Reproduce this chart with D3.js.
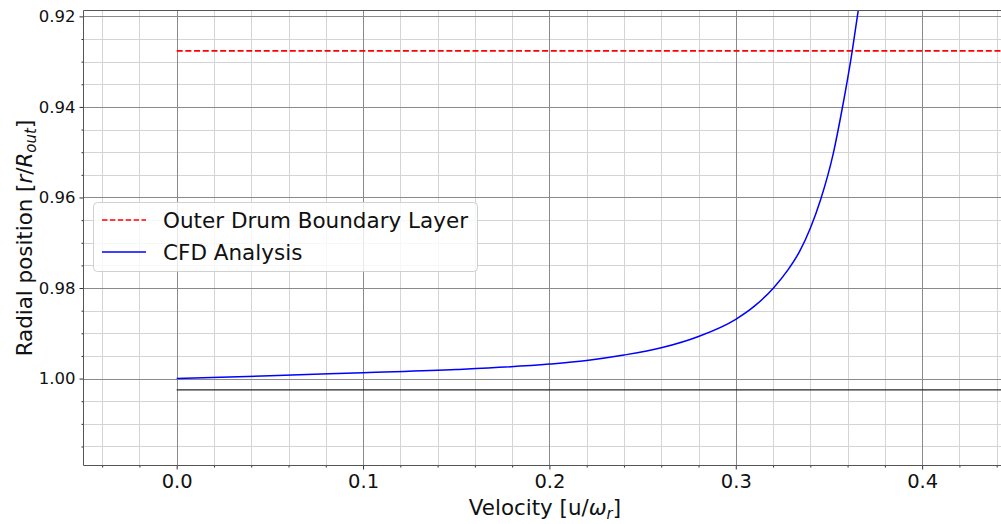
<!DOCTYPE html>
<html>
<head>
<meta charset="utf-8">
<script src="https://cdn.jsdelivr.net/npm/d3@7"></script>
<style>
  html, body { margin: 0; padding: 0; background: #fff; }
  svg { display: block; font-family: "DejaVu Sans", sans-serif; }
</style>
</head>
<body>
<svg id="chart" width="1001" height="524"></svg>
<script>
// CFD velocity profile near the outer drum wall
const velocity = [0, 0.05, 0.10, 0.15, 0.20, 0.22, 0.24, 0.26, 0.28, 0.30, 0.31, 0.32, 0.328, 0.3344, 0.340, 0.3455, 0.3523, 0.3571, 0.3625, 0.3657];
const radial   = [1.0000, 0.9994, 0.9987, 0.9980, 0.9968, 0.9960, 0.9948, 0.9932, 0.9907, 0.9869, 0.9840, 0.9801, 0.9760, 0.9718, 0.9668, 0.9605, 0.9503, 0.9404, 0.9276, 0.9187];

// Reference lines
const boundaryLayerR = 0.9276;   // outer drum boundary layer
const wallR = 1.0025;            // drum wall
const refStartV = 0.0;

// Axis limits and ticks
const xDomain = [-0.05, 0.445];
const yDomain = [0.9187, 1.0192];
const xTicks = [0.0, 0.1, 0.2, 0.3, 0.4];
const xMinorTicks = [-0.04, -0.02, 0.02, 0.04, 0.06, 0.08, 0.12, 0.14, 0.16, 0.18, 0.22, 0.24, 0.26, 0.28, 0.32, 0.34, 0.36, 0.38, 0.42, 0.44];
const yTicks = [0.92, 0.94, 0.96, 0.98, 1.00];
const yMinorTicks = [0.925, 0.93, 0.935, 0.945, 0.95, 0.955, 0.965, 0.97, 0.975, 0.985, 0.99, 0.995, 1.005, 1.01, 1.015];

const legendItems = ["Outer Drum Boundary Layer", "CFD Analysis"];

const svg = d3.select("#chart");
const pLeft = 83.5, pRight = 1006, pTop = 10.5, pBottom = 465.5;

const x = d3.scaleLinear().domain(xDomain).range([pLeft, pRight]);
const y = d3.scaleLinear().domain(yDomain).range([pTop, pBottom]);

svg.append("defs").append("clipPath").attr("id", "plotClip")
  .append("rect").attr("x", pLeft).attr("y", pTop)
  .attr("width", pRight - pLeft).attr("height", pBottom - pTop);

// Grid
const grid = svg.append("g");
const crisp = v => Math.round(v) + 0.5;
grid.selectAll(".xmin").data(xMinorTicks).join("line")
  .attr("x1", d => crisp(x(d))).attr("x2", d => crisp(x(d)))
  .attr("y1", pTop).attr("y2", pBottom)
  .attr("stroke", "#d4d4d4").attr("stroke-width", 1);
grid.selectAll(".ymin").data(yMinorTicks).join("line")
  .attr("y1", d => crisp(y(d))).attr("y2", d => crisp(y(d)))
  .attr("x1", pLeft).attr("x2", pRight)
  .attr("stroke", "#d4d4d4").attr("stroke-width", 1);
grid.selectAll(".xmaj").data(xTicks).join("line")
  .attr("x1", d => crisp(x(d))).attr("x2", d => crisp(x(d)))
  .attr("y1", pTop).attr("y2", pBottom)
  .attr("stroke", "#8a8a8a").attr("stroke-width", 1);
grid.selectAll(".ymaj").data(yTicks).join("line")
  .attr("y1", d => crisp(y(d))).attr("y2", d => crisp(y(d)))
  .attr("x1", pLeft).attr("x2", pRight)
  .attr("stroke", "#8a8a8a").attr("stroke-width", 1);

// Data
const plot = svg.append("g").attr("clip-path", "url(#plotClip)");

plot.append("line")
  .attr("x1", x(refStartV)).attr("x2", pRight)
  .attr("y1", y(wallR)).attr("y2", y(wallR))
  .attr("stroke", "#262626").attr("stroke-width", 1.2);

plot.append("line")
  .attr("x1", x(refStartV)).attr("x2", pRight)
  .attr("y1", y(boundaryLayerR)).attr("y2", y(boundaryLayerR))
  .attr("stroke", "#ff0000").attr("stroke-width", 1.8)
  .attr("stroke-dasharray", "6,2.7");

const pts = velocity.map((v, i) => [v, radial[i]]);
plot.append("path")
  .datum(pts)
  .attr("fill", "none")
  .attr("stroke", "#0000ff")
  .attr("stroke-width", 1.5)
  .attr("d", d3.line().x(d => x(d[0])).y(d => y(d[1])).curve(d3.curveMonotoneX));

// Axes
const xAxis = svg.append("g").attr("transform", `translate(0,${pBottom})`)
  .call(d3.axisBottom(x).tickValues(xTicks).tickFormat(d3.format(".1f")).tickSize(4).tickPadding(5));
const xAxisMinor = svg.append("g").attr("transform", `translate(0,${pBottom})`)
  .call(d3.axisBottom(x).tickValues(xMinorTicks).tickFormat("").tickSize(2));
const yAxis = svg.append("g").attr("transform", `translate(${pLeft},0)`)
  .call(d3.axisLeft(y).tickValues(yTicks).tickFormat(d3.format(".2f")).tickSize(4).tickPadding(4));
const yAxisMinor = svg.append("g").attr("transform", `translate(${pLeft},0)`)
  .call(d3.axisLeft(y).tickValues(yMinorTicks).tickFormat("").tickSize(2));

[xAxis, xAxisMinor, yAxis, yAxisMinor].forEach(g => {
  g.select(".domain").remove();
  g.selectAll(".tick line").attr("stroke", "#333");
});
xAxis.selectAll("text").attr("font-size", 19.5).attr("fill", "#111").attr("font-family", "DejaVu Sans");
yAxis.selectAll("text").attr("font-size", 16.5).attr("fill", "#111").attr("font-family", "DejaVu Sans");

// Spines
svg.append("line").attr("x1", pLeft).attr("x2", pLeft).attr("y1", pTop).attr("y2", pBottom)
  .attr("stroke", "#555").attr("stroke-width", 1);
svg.append("line").attr("x1", pLeft).attr("x2", pRight).attr("y1", pTop).attr("y2", pTop)
  .attr("stroke", "#555").attr("stroke-width", 1);
svg.append("line").attr("x1", pLeft).attr("x2", pRight).attr("y1", pBottom).attr("y2", pBottom)
  .attr("stroke", "#555").attr("stroke-width", 1);

// Axis labels
const xl = svg.append("text")
  .attr("x", 545).attr("y", 515)
  .attr("text-anchor", "middle").attr("font-size", 21.4).attr("fill", "#111");
xl.append("tspan").text("Velocity [u/");
xl.append("tspan").attr("font-style", "italic").text("ω");
xl.append("tspan").attr("font-style", "italic").attr("font-size", 15).attr("dy", 4).text("r");
xl.append("tspan").attr("dy", -4).text("]");

const yl = svg.append("text")
  .attr("transform", `translate(32,${(pTop + pBottom) / 2}) rotate(-90)`)
  .attr("text-anchor", "middle").attr("font-size", 21.4).attr("fill", "#111");
yl.append("tspan").text("Radial position [");
yl.append("tspan").attr("font-style", "italic").text("r");
yl.append("tspan").text("/");
yl.append("tspan").attr("font-style", "italic").text("R");
yl.append("tspan").attr("font-style", "italic").attr("font-size", 15).attr("dy", 4).text("out");
yl.append("tspan").attr("dy", -4).text("]");

// Legend
const lg = svg.append("g");
lg.append("rect")
  .attr("x", 93.5).attr("y", 202.5).attr("width", 384).attr("height", 69).attr("rx", 4)
  .attr("fill", "#fff").attr("fill-opacity", 0.8)
  .attr("stroke", "#d0d0d0").attr("stroke-width", 1);
const legY = [220, 252];
lg.append("line").attr("x1", 102).attr("x2", 146).attr("y1", legY[0]).attr("y2", legY[0])
  .attr("stroke", "#ff0000").attr("stroke-width", 1.5).attr("stroke-dasharray", "5.5,2.4");
lg.append("line").attr("x1", 102).attr("x2", 146).attr("y1", legY[1]).attr("y2", legY[1])
  .attr("stroke", "#0000ff").attr("stroke-width", 1.5);
lg.selectAll(".lt").data(legendItems).join("text")
  .attr("x", 163).attr("y", (d, i) => legY[i] + 7.5)
  .attr("font-size", 21.5).attr("fill", "#111")
  .text(d => d);
</script>
</body>
</html>
